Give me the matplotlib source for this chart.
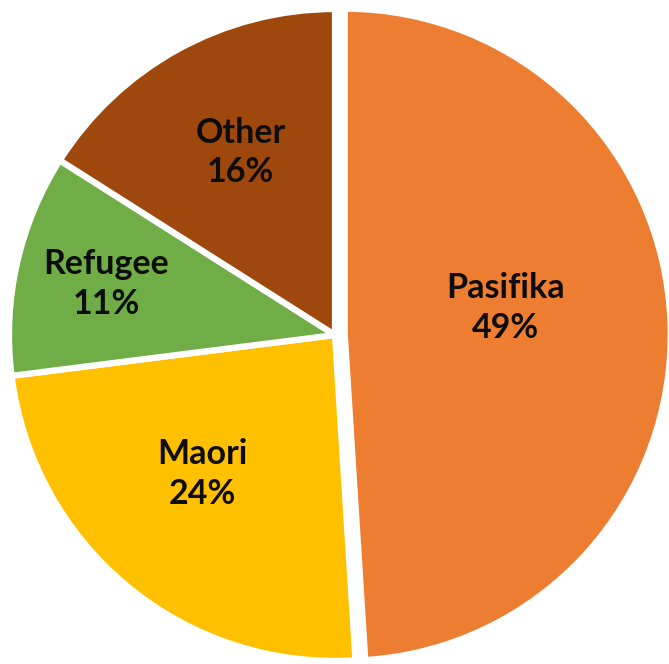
import numpy as np
import matplotlib
matplotlib.use("Agg")
import matplotlib.pyplot as plt

groups = ["Pasifika", "Maori", "Refugee", "Other"]
shares = [49, 24, 11, 16]
colors = ["#ED7D31", "#FFC000", "#70AD47", "#9E480E"]
explode = [0.03, 0, 0, 0]  # fraction of radius
# label placement (fraction of radius, angle tweak in degrees)
label_r = [0.50, 0.59, 0.72, 0.63]
label_dang = [7.5, -4, 0, -1.5]

W, H = 669, 664
R = 326
cx, cy = 335, H - 335

fig = plt.figure(figsize=(W / 100, H / 100), dpi=100)
ax = fig.add_axes([0, 0, 1, 1])

wedges, _ = ax.pie(shares, colors=colors, explode=[e * R for e in explode],
                   startangle=90, counterclock=False, radius=R, center=(cx, cy),
                   wedgeprops=dict(edgecolor="white", linewidth=4.5))

for w, g, s, lr, da in zip(wedges, groups, shares, label_r, label_dang):
    mid = np.deg2rad((w.theta1 + w.theta2) / 2 + da)
    x0, y0 = w.center
    ax.text(x0 + lr * R * np.cos(mid), y0 + lr * R * np.sin(mid), f"{g}\n{s}%",
            ha="center", va="center", fontsize=24.5, fontweight="bold",
            family="Lato", color="#0D0D0D", linespacing=1.3)

ax.set_xlim(0, W)
ax.set_ylim(0, H)
ax.set_aspect("equal")
ax.axis("off")
fig.savefig("out.png", dpi=100)
